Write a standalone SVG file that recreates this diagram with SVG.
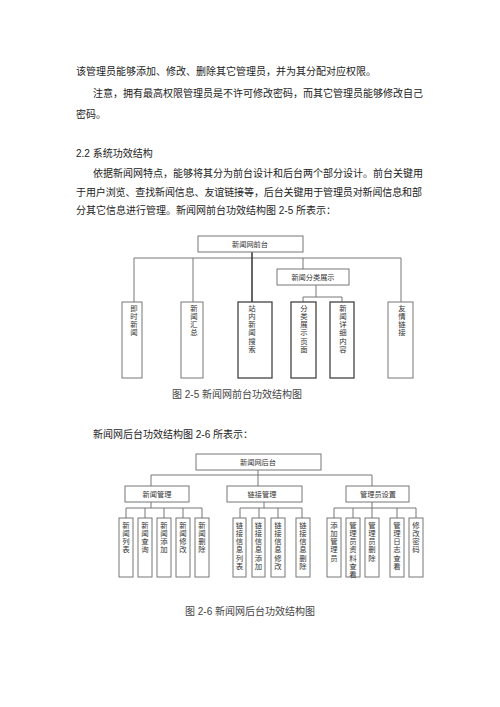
<svg xmlns="http://www.w3.org/2000/svg" width="500" height="707" viewBox="0 0 500 707">
<style>
.body{font-family:"Liberation Sans","Noto Sans CJK SC",sans-serif;font-size:10px;fill:#222}
.cap{font-family:"Liberation Sans","Noto Sans CJK SC",sans-serif;font-size:10px;fill:#444}
.box{fill:#fff;stroke:#777;stroke-width:1}
.dark{fill:#fff;stroke:#444;stroke-width:1.3}
.lbl{font-family:"Noto Sans CJK SC",sans-serif;font-size:7.2px;fill:#333;text-anchor:middle}
.vt{font-family:"Noto Sans CJK SC",sans-serif;font-size:7.4px;fill:#333;writing-mode:vertical-rl;letter-spacing:0.9px}
.ln{stroke:#777;stroke-width:1;fill:none}
.lnd{stroke:#333;stroke-width:1.5;fill:none}
</style>
<rect width="500" height="707" fill="#fff"/>
<text class="body" x="76" y="75">该管理员能够添加、修改、删除其它管理员，并为其分配对应权限。</text>
<text class="body" x="93" y="97">注意，拥有最高权限管理员是不许可修改密码，而其它管理员能够修改自己</text>
<text class="body" x="76" y="118">密码。</text>
<text class="body" x="76" y="157">2.2 系统功效结构</text>
<text class="body" x="93" y="177">依据新闻网特点，能够将其分为前台设计和后台两个部分设计。前台关键用</text>
<text class="body" x="76" y="196" textLength="346">于用户浏览、查找新闻信息、友谊链接等，后台关键用于管理员对新闻信息和部</text>
<text class="body" x="76" y="214">分其它信息进行管理。新闻网前台功效结构图 2-5 所表示：</text>
<text class="cap" x="172" y="398">图 2-5  新闻网前台功效结构图</text>
<text class="body" x="93" y="438">新闻网后台功效结构图 2-6 所表示：</text>
<text class="cap" x="185" y="615">图 2-6 新闻网后台功效结构图</text>

<g id="connectors1">
<path class="ln" d="M134 258H401M134 258V302M193 258V302M401 258V302M303 258V269M316 285V297M303 297H342M303 297V302M342 297V302"/>
<path class="lnd" d="M252 252V302"/>
</g>
<g id="n_front"><rect class="box" x="198" y="236" width="105" height="16"/><text class="lbl" x="250" y="246.5">新闻网前台</text></g>
<g id="n_cat"><rect class="box" x="277" y="269" width="72" height="16"/><text class="lbl" x="313" y="279.5">新闻分类展示</text></g>
<g id="n_jishi"><rect class="box" x="122" y="302" width="20" height="76"/><text class="vt" x="134" y="304">即时新闻</text></g>
<g id="n_huizong"><rect class="box" x="181" y="302" width="22" height="76"/><text class="vt" x="194" y="304">新闻汇总</text></g>
<g id="n_search"><rect class="dark" x="238" y="302" width="34" height="76"/><text class="vt" x="252" y="304">站内新闻搜索</text></g>
<g id="n_catpage"><rect class="dark" x="291" y="302" width="25" height="76"/><text class="vt" x="304" y="304">分类展示页面</text></g>
<g id="n_detail"><rect class="dark" x="330" y="302" width="24" height="76"/><text class="vt" x="343" y="304">新闻详细内容</text></g>
<g id="n_link"><rect class="box" x="388" y="302" width="25" height="76"/><text class="vt" x="402" y="304">友情链接</text></g>

<g id="connectors2">
<path class="ln" d="M151 475H372M151 475V486M258 470V486M372 475V486"/>
<path class="ln" d="M151 502V508M126 508H202M126 508V518M145 508V518M164 508V518M183 508V518M202 508V518"/>
<path class="ln" d="M264 502V508M240 508H302M240 508V518M259 508V518M278 508V518M302 508V518"/>
<path class="ln" d="M372 502V508M334 508H416M334 508V518M353 508V518M372 508V518M397 508V518M416 508V518"/>
</g>
<g id="n_back"><rect class="box" x="196" y="454" width="125" height="16"/><text class="lbl" x="258" y="464.5">新闻网后台</text></g>
<g id="n_newsmgr"><rect class="box" x="125" y="486" width="64" height="16"/><text class="lbl" x="157" y="496.5">新闻管理</text></g>
<g id="n_linkmgr"><rect class="box" x="227" y="486" width="75" height="16"/><text class="lbl" x="262" y="496.5">链接管理</text></g>
<g id="n_adminset"><rect class="box" x="346" y="486" width="63" height="16"/><text class="lbl" x="378" y="496.5">管理员设置</text></g>

<g id="n_l1"><rect class="box" x="119" y="518" width="14" height="59"/><text class="vt" x="126" y="521">新闻列表</text></g>
<g id="n_l2"><rect class="box" x="138" y="518" width="14" height="59"/><text class="vt" x="145" y="521">新闻查询</text></g>
<g id="n_l3"><rect class="box" x="157" y="518" width="14" height="59"/><text class="vt" x="164" y="521">新闻添加</text></g>
<g id="n_l4"><rect class="box" x="176" y="518" width="14" height="59"/><text class="vt" x="183" y="521">新闻修改</text></g>
<g id="n_l5"><rect class="box" x="195" y="518" width="14" height="59"/><text class="vt" x="202" y="521">新闻删除</text></g>

<g id="n_k1"><rect class="box" x="233" y="518" width="13" height="59"/><text class="vt" x="239.5" y="521">链接信息列表</text></g>
<g id="n_k2"><rect class="box" x="252" y="518" width="13" height="59"/><text class="vt" x="258.5" y="521">链接信息添加</text></g>
<g id="n_k3"><rect class="box" x="271" y="518" width="14" height="59"/><text class="vt" x="278" y="521">链接信息修改</text></g>
<g id="n_k4"><rect class="box" x="296" y="518" width="14" height="59"/><text class="vt" x="303" y="521">链接信息删除</text></g>

<g id="n_a1"><rect class="box" x="327" y="518" width="14" height="59"/><text class="vt" x="334" y="521">添加管理员</text></g>
<g id="n_a2"><rect class="box" x="346" y="518" width="14" height="59"/><text class="vt" x="353" y="521">管理员资料查看</text></g>
<g id="n_a3"><rect class="box" x="365" y="518" width="14" height="59"/><text class="vt" x="372" y="521">管理员删除</text></g>
<g id="n_a4"><rect class="box" x="390" y="518" width="14" height="59"/><text class="vt" x="397" y="521">管理日志查看</text></g>
<g id="n_a5"><rect class="box" x="409" y="518" width="14" height="59"/><text class="vt" x="416" y="521">修改密码</text></g>
</svg>
